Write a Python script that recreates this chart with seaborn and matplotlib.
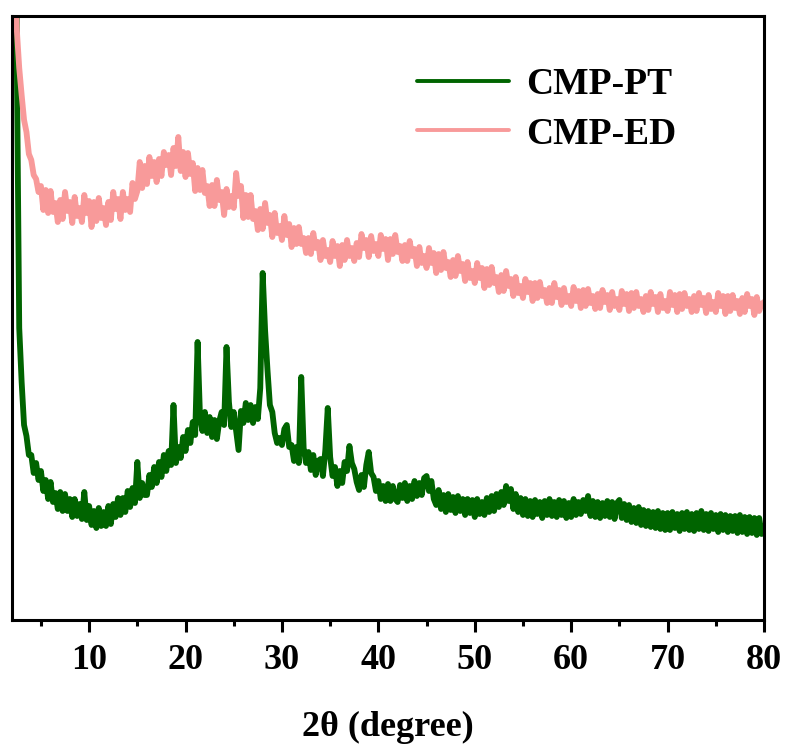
import numpy as np
import pandas as pd
import seaborn as sns
import matplotlib.pyplot as plt
from matplotlib.ticker import MultipleLocator

# Scan axis: 2θ from 2° to 80° in 0.25° steps
two_theta = np.arange(2.0, 80.001, 0.25)

# CMP-PT intensity (a.u.), four readings per degree
cmp_pt = [
    2500, 1500, 560, 292,   # 2
    238, 195, 184, 165,     # 3
    165, 147, 157, 140,     # 4
    149, 129, 140, 121,     # 5
    138, 118, 127, 111,     # 6
    128, 109, 126, 109,     # 7
    121, 103, 121, 104,     # 8
    116, 101, 128, 100,     # 9
    114, 95, 109, 92,       # 10
    112, 94, 108, 94,       # 11
    114, 96, 116, 103,      # 12
    122, 105, 122, 108,     # 13
    129, 113, 132, 117,     # 14
    158, 122, 137, 125,     # 15
    125, 145, 133, 153,     # 16
    137, 158, 143, 165,     # 17
    149, 169, 155, 215,     # 18
    157, 173, 162, 183,     # 19
    169, 190, 177, 198,     # 20
    185, 278, 203, 189,     # 21
    208, 187, 203, 183,     # 22
    200, 181, 199, 208,     # 23
    195, 273, 218, 193,     # 24
    208, 189, 170, 209,     # 25
    197, 217, 200, 215,     # 26
    197, 213, 201, 232,     # 27
    347, 290, 250, 215,     # 28
    208, 187, 177, 182,     # 29
    175, 191, 195, 173,     # 30
    175, 159, 173, 157,     # 31
    243, 172, 157, 168,     # 32
    150, 165, 145, 159,     # 33
    161, 144, 170, 212,     # 34
    163, 144, 153, 134,     # 35
    149, 137, 158, 149,     # 36
    174, 157, 151, 138,     # 37
    130, 145, 133, 155,     # 38
    168, 147, 143, 129,     # 39
    139, 121, 134, 119,     # 40
    136, 119, 134, 121,     # 41
    118, 135, 122, 137,     # 42
    119, 134, 121, 139,     # 43
    124, 137, 125, 142,     # 44
    144, 129, 139, 121,     # 45
    115, 130, 111, 125,     # 46
    108, 126, 110, 123,     # 47
    107, 124, 109, 121,     # 48
    105, 121, 107, 120,     # 49
    103, 121, 106, 118,     # 50
    105, 122, 108, 124,     # 51
    109, 126, 113, 128,     # 52
    115, 134, 119, 131,     # 53
    111, 126, 108, 122,     # 54
    105, 121, 104, 119,     # 55
    103, 120, 106, 118,     # 56
    102, 119, 105, 121,     # 57
    104, 118, 103, 120,     # 58
    105, 119, 102, 117,     # 59
    103, 121, 105, 118,     # 60
    106, 120, 109, 124,     # 61
    104, 119, 103, 118,     # 62
    102, 117, 104, 119,     # 63
    103, 118, 101, 117,     # 64
    120, 102, 116, 100,     # 65
    115, 98, 112, 97,       # 66
    113, 95, 110, 94,       # 67
    109, 93, 108, 92,       # 68
    109, 91, 107, 90,       # 69
    107, 90, 108, 92,       # 70
    106, 89, 107, 91,       # 71
    108, 90, 106, 89,       # 72
    107, 91, 109, 90,       # 73
    106, 89, 107, 91,       # 74
    105, 88, 106, 90,       # 75
    105, 88, 104, 89,       # 76
    104, 87, 105, 88,       # 77
    103, 86, 103, 87,       # 78
    102, 85, 102, 86,       # 79
    94,                     # 80
]

# CMP-ED intensity (a.u.), four readings per degree
cmp_ed = [
    1500, 660, 590, 552,    # 2
    525, 500, 488, 466,     # 3
    460, 445, 441, 428,     # 4
    434, 410, 430, 407,     # 5
    429, 408, 417, 398,     # 6
    420, 401, 428, 409,     # 7
    418, 397, 423, 404,     # 8
    412, 398, 425, 407,     # 9
    419, 393, 418, 399,     # 10
    422, 402, 412, 395,     # 11
    418, 400, 428, 411,     # 12
    421, 401, 428, 410,     # 13
    421, 408, 437, 421,     # 14
    429, 458, 432, 454,     # 15
    436, 463, 444, 458,     # 16
    438, 461, 444, 468,     # 17
    455, 465, 445, 472,     # 18
    454, 483, 449, 468,     # 19
    443, 467, 446, 457,     # 20
    429, 452, 430, 450,     # 21
    427, 434, 414, 435,     # 22
    414, 440, 420, 428,     # 23
    405, 431, 413, 424,     # 24
    412, 447, 424, 434,     # 25
    402, 425, 403, 425,     # 26
    401, 409, 390, 411,     # 27
    391, 417, 397, 405,     # 28
    383, 407, 387, 394,     # 29
    380, 404, 385, 396,     # 30
    373, 392, 376, 393,     # 31
    376, 382, 367, 382,     # 32
    366, 387, 372, 378,     # 33
    360, 380, 364, 370,     # 34
    358, 379, 364, 374,     # 35
    354, 375, 360, 380,     # 36
    364, 372, 359, 377,     # 37
    363, 386, 372, 380,     # 38
    363, 384, 369, 376,     # 39
    364, 385, 371, 381,     # 40
    360, 381, 366, 385,     # 41
    368, 374, 359, 375,     # 42
    359, 379, 364, 371,     # 43
    354, 373, 357, 364,     # 44
    352, 372, 357, 367,     # 45
    347, 366, 350, 368,     # 46
    352, 358, 343, 360,     # 47
    344, 364, 349, 356,     # 48
    339, 358, 342, 349,     # 49
    337, 357, 342, 352,     # 50
    332, 351, 335, 353,     # 51
    337, 343, 328, 345,     # 52
    329, 349, 334, 341,     # 53
    324, 343, 327, 334,     # 54
    322, 341, 328, 337,     # 55
    319, 337, 322, 338,     # 56
    324, 330, 317, 332,     # 57
    317, 337, 323, 330,     # 58
    315, 332, 318, 324,     # 59
    314, 333, 319, 329,     # 60
    312, 330, 314, 331,     # 61
    317, 324, 311, 326,     # 62
    312, 330, 318, 325,     # 63
    310, 328, 314, 321,     # 64
    310, 329, 316, 326,     # 65
    309, 327, 312, 328,     # 66
    314, 321, 308, 324,     # 67
    310, 328, 316, 323,     # 68
    308, 326, 312, 319,     # 69
    309, 328, 315, 325,     # 70
    308, 326, 311, 327,     # 71
    314, 321, 308, 324,     # 72
    309, 327, 315, 322,     # 73
    307, 325, 311, 318,     # 74
    308, 327, 314, 324,     # 75
    306, 324, 309, 325,     # 76
    312, 319, 306, 322,     # 77
    308, 326, 314, 321,     # 78
    305, 323, 309, 316,     # 79
    318,                    # 80
]

samples = ["CMP-PT", "CMP-ED"]
colors = ["#006400", "#F89A9A"]
x_ticks = [10, 20, 30, 40, 50, 60, 70, 80]

df = pd.concat([
    pd.DataFrame({"two_theta": two_theta, "intensity": cmp_pt, "sample": samples[0]}),
    pd.DataFrame({"two_theta": two_theta, "intensity": cmp_ed, "sample": samples[1]}),
], ignore_index=True)

sns.set_theme(style="white")
plt.rcParams["font.family"] = ["Liberation Serif", "DejaVu Serif"]
plt.rcParams["font.weight"] = "bold"
plt.rcParams["text.color"] = "black"
plt.rcParams["axes.labelcolor"] = "black"
plt.rcParams["xtick.color"] = "black"

fig = plt.figure(figsize=(7.87, 7.44), dpi=100)
ax = fig.add_axes([12 / 787, 124 / 744, 752 / 787, 604 / 744])

sns.lineplot(data=df, x="two_theta", y="intensity", hue="sample",
             hue_order=samples, palette=colors, estimator=None, sort=False,
             linewidth=4.2, ax=ax)

ax.set_xlim(2, 80)
ax.set_ylim(0, 604)
ax.set_yticks([])
ax.set_xticks(x_ticks)
ax.xaxis.set_minor_locator(MultipleLocator(5))
ax.set_xticklabels([str(t) for t in x_ticks], fontsize=26, fontweight="bold",
                   color="black")
ax.tick_params(axis="x", which="major", direction="out", length=8.5, width=2.2,
               pad=8.5, color="black", labelcolor="black", bottom=True)
ax.tick_params(axis="x", which="minor", direction="out", length=4.3, width=2.2,
               color="black", bottom=True)
for side in ["left", "right", "top", "bottom"]:
    ax.spines[side].set_visible(True)
    ax.spines[side].set_color("black")
    ax.spines[side].set_linewidth(2.2)

ax.set_xlabel("2θ (degree)", fontsize=26, fontweight="bold", color="black",
              labelpad=25)
ax.set_ylabel("")

handles, labels = ax.get_legend_handles_labels()
leg = ax.legend(handles, labels, loc="upper left", bbox_to_anchor=(0.5386, 0.915),
                frameon=False, borderpad=0, borderaxespad=0, handlelength=2.45,
                handletextpad=0.47, labelspacing=0.38,
                prop={"family": "Liberation Serif", "weight": "bold", "size": 27})
for line in leg.get_lines():
    line.set_linewidth(2.8)
for text in leg.get_texts():
    text.set_color("black")

fig.savefig("out.png", dpi=100)
